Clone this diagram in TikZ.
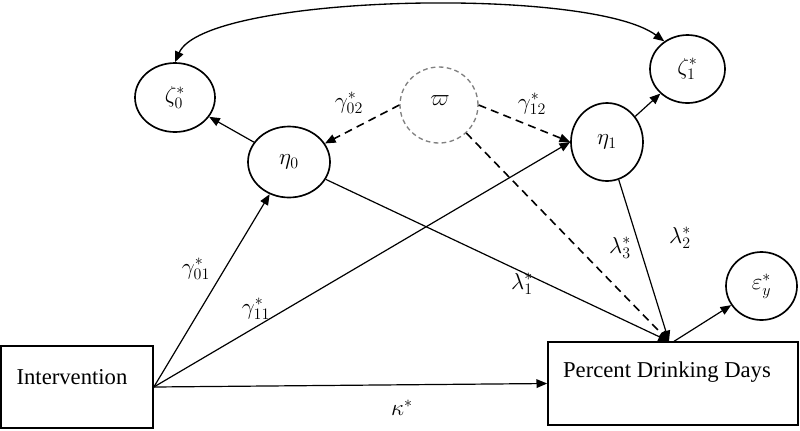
\documentclass[tikz,border=0pt]{standalone}
\usepackage{fontspec}
\setmainfont{Liberation Serif}
\usetikzlibrary{arrows.meta,calc,shapes.geometric}
\begin{document}
\begin{tikzpicture}[x=0.75pt,y=-0.75pt,
  lat/.style={draw,ellipse,line width=1.25pt,inner sep=0pt},
  obs/.style={draw,rectangle,line width=1.25pt,inner sep=0pt},
  path/.style={line width=0.9pt,-{Triangle[length=8pt,width=6.5pt]}},
  dpath/.style={path,dash pattern=on 6pt off 4pt,line width=1.2pt},
  lbl/.style={font=\fontsize{17.5}{20}\selectfont},
  txt/.style={font=\fontsize{17}{20}\selectfont}]
\useasboundingbox (0,0) rectangle (800,430);
% latent variables
\node[lat,minimum width=60pt,minimum height=51.75pt] (z0) at (175,97.5) {};
\node[lbl] at (z0) {$\zeta_0^*$};
\node[lat,minimum width=56.25pt,minimum height=51pt] (z1) at (687.5,69) {};
\node[lbl] at (z1) {$\zeta_1^*$};
\node[draw=gray,ellipse,dash pattern=on 3.5pt off 2.5pt,line width=1pt,minimum width=58.5pt,minimum height=57pt,inner sep=0pt] (w) at (439,105) {};
\node[lbl] at (440,101) {$\varpi$};
\node[lat,minimum width=61.5pt,minimum height=53.25pt] (e0) at (289,162) {};
\node[lbl] at (e0) {$\eta_0$};
\node[lat,minimum width=54pt,minimum height=58.5pt] (e1) at (607,142) {};
\node[lbl] at (e1) {$\eta_1$};
\node[lat,minimum width=53.25pt,minimum height=51pt] (ey) at (761.5,286) {};
\node[lbl] at (ey) {$\varepsilon_y^*$};
% observed
\node[obs,minimum width=114pt,minimum height=61.5pt] (int) at (77,387) {};
\node[txt] at (72,377) {Intervention};
\node[obs,minimum width=187.5pt,minimum height=62pt] (pdd) at (673,383.5) {};
\node[txt] at (667,372) {Percent Drinking Days};
\coordinate (pin) at ($(pdd.north)+(-4,0)$);
\coordinate (pout) at ($(pdd.north)+(1,0)$);
% paths
\draw[path] (int.east) -- (e0);
\draw[path] (int.east) -- (e1.west);
\draw[path] (int.east) -- (pdd.west);
\draw[path] (e0) -- (pin);
\draw[path] (e1) -- (pin);
\draw[dpath] (w) -- (pin);
\draw[dpath] (w.west) -- (e0);
\draw[dpath] (w.east) -- (e1.west);
\draw[path] (e0) -- (z0);
\draw[path] (e1) -- (z1);
\draw[path] (pout) -- (ey);
\draw[line width=1pt,{Triangle[length=8pt,width=6.5pt]}-{Triangle[length=8pt,width=6.5pt]}]
  (z0.north) .. controls (205,-6) and (590,-14) .. (z1.130);
% labels
\node[lbl] at (349,103) {$\gamma_{02}^*$};
\node[lbl] at (532,104) {$\gamma_{12}^*$};
\node[lbl] at (196,269) {$\gamma_{01}^*$};
\node[lbl] at (256,309) {$\gamma_{11}^*$};
\node[lbl] at (522,284) {$\lambda_1^*$};
\node[lbl] at (620,248) {$\lambda_3^*$};
\node[lbl] at (680,238) {$\lambda_2^*$};
\node[lbl] at (402,408) {$\kappa^*$};
\end{tikzpicture}
\end{document}
